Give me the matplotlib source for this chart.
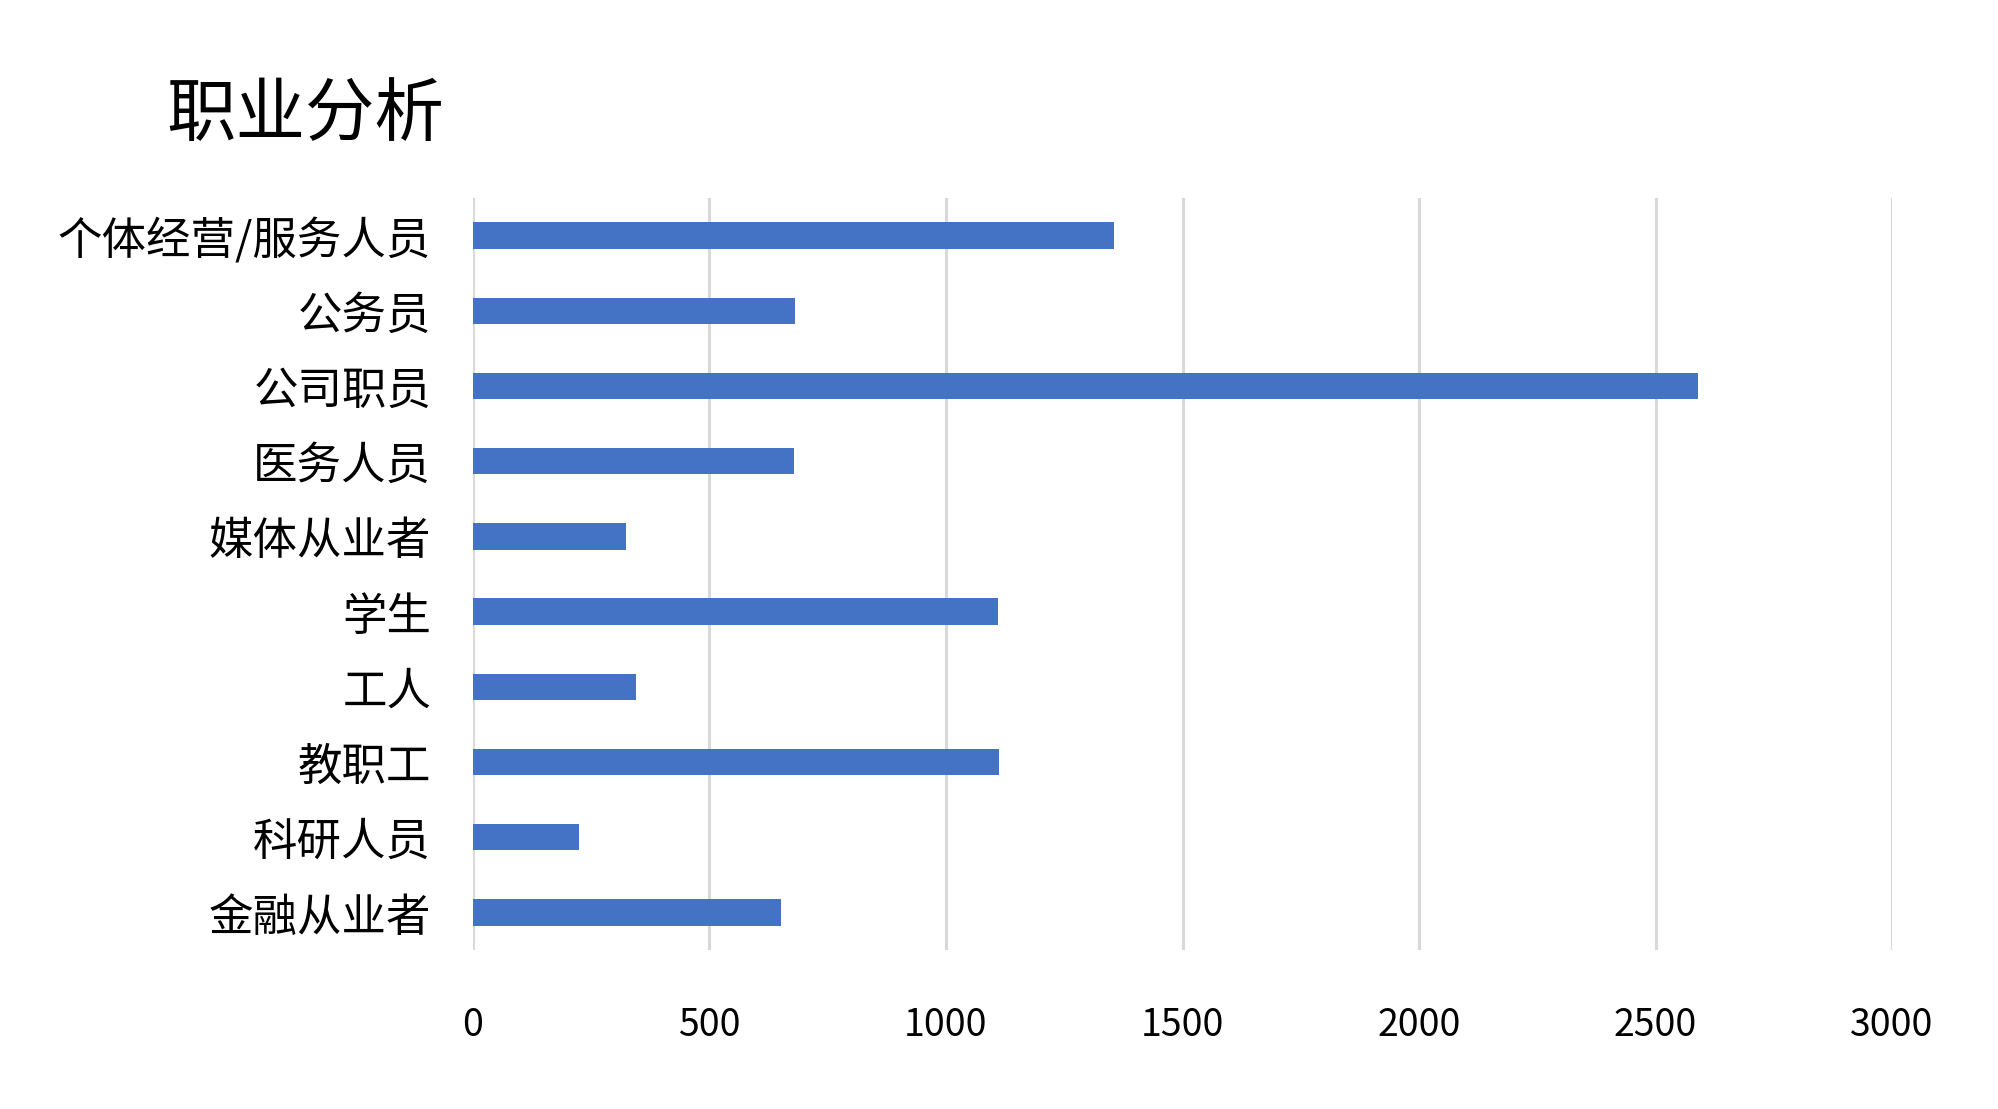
import matplotlib
matplotlib.use("Agg")
import matplotlib.pyplot as plt

plt.rcParams['font.family'] = ['Noto Sans CJK SC', 'DejaVu Sans']

# === Data ===
categories = ["个体经营/服务人员", "公务员", "公司职员", "医务人员", "媒体从业者",
              "学生", "工人", "教职工", "科研人员", "金融从业者"]
counts = [1356, 681, 2590, 679, 323, 1109, 345, 1113, 224, 652]
xticks = [0, 500, 1000, 1500, 2000, 2500, 3000]

# === Figure ===
fig = plt.figure(figsize=(19.99, 11.09), dpi=100)
ax = fig.add_axes([0.2366, 0.1434, 0.7099, 0.6781])

ypos = list(range(len(categories)))
ax.barh(ypos, counts, height=0.35, color="#4472C4", zorder=3)

ax.set_ylim(len(categories) - 0.5, -0.5)
ax.set_xlim(0, 3000)
ax.set_yticks(ypos)
ax.set_yticklabels(categories, fontsize=32)
ax.set_xticks(xticks)
ax.set_xticklabels([str(t) for t in xticks], fontsize=27)

ax.grid(axis="x", color="#D9D9D9", linewidth=2.2, zorder=0)
ax.grid(axis="y", visible=False)
for s in ax.spines.values():
    s.set_visible(False)
ax.tick_params(axis="both", length=0)
ax.tick_params(axis="x", pad=40)
ax.tick_params(axis="y", pad=30)

fig.text(0.1526, 0.896, "职业分析", fontsize=50, ha="center", va="center")

plt.savefig("out.png", dpi=100, facecolor="white")
